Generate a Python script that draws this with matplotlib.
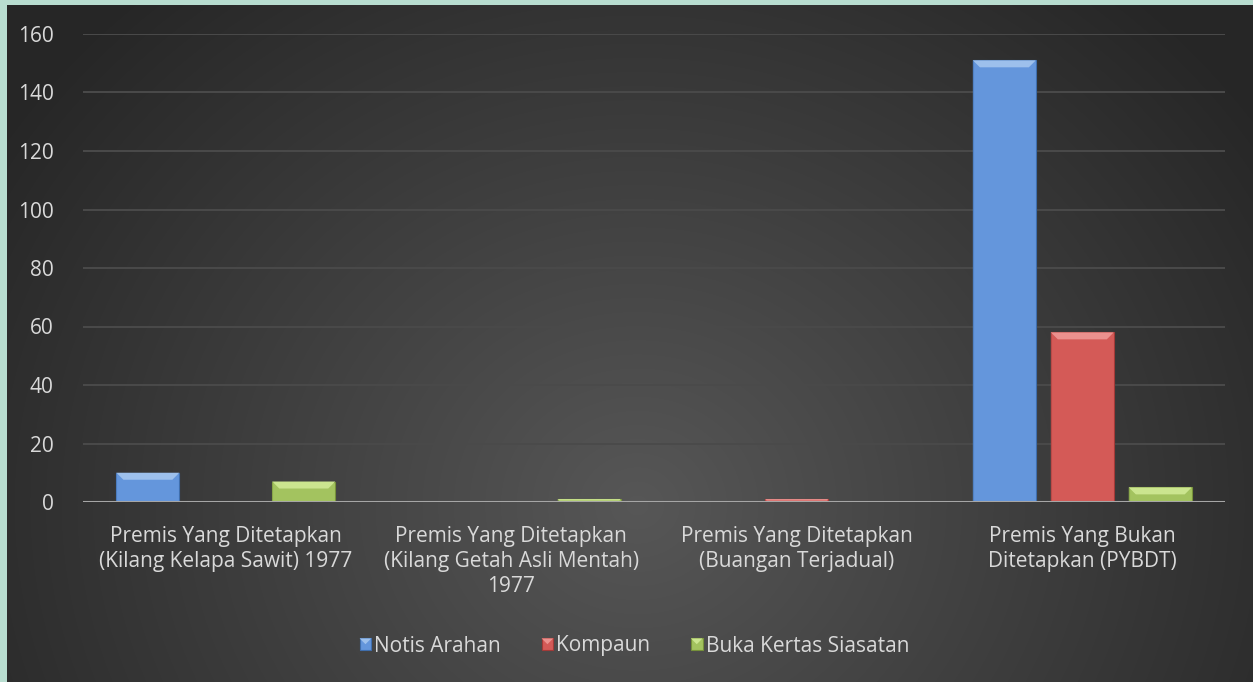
import numpy as np
import matplotlib
matplotlib.use("Agg")
import matplotlib.pyplot as plt
from matplotlib.patches import Polygon, Rectangle
from matplotlib.legend_handler import HandlerBase

categories = [
    "Premis Yang Ditetapkan\n(Kilang Kelapa Sawit) 1977",
    "Premis Yang Ditetapkan\n(Kilang Getah Asli Mentah)\n1977",
    "Premis Yang Ditetapkan\n(Buangan Terjadual)",
    "Premis Yang Bukan\nDitetapkan (PYBDT)",
]
series_names = ["Notis Arahan", "Kompaun", "Buka Kertas Siasatan"]
notis_arahan = [10, 0, 0, 151]
kompaun = [0, 0, 1, 58]
buka_kertas = [7, 1, 0, 5]
yticks = [0, 20, 40, 60, 80, 100, 120, 140, 160]

faces = ["#6496dc", "#d45a57", "#a3c35f"]
tops = ["#9dc0ec", "#eb918e", "#cbe58f"]
edges = ["#3f6ead", "#a33a38", "#76913a"]

W, H = 1253, 682
fig = plt.figure(figsize=(W / 100, H / 100), dpi=100)
fig.patch.set_facecolor("#b8ddd0")
plt.rcParams["font.family"] = ["Open Sans", "DejaVu Sans"]

# radial dark background of the chart area
bg = fig.add_axes([7 / W, 0, 1 - 7 / W, 1 - 5 / H])
yy, xx = np.mgrid[0:677, 0:1246]
r = np.hypot((xx - 630) / 1.0, (yy - 500) / 0.9)
r = np.clip(r / 760, 0, 1)
shade = 0.34 - 0.19 * r
bg.imshow(np.dstack([shade] * 3), aspect="auto", extent=[0, 1, 0, 1], origin="upper")
bg.axis("off")

ax = fig.add_axes([83 / W, 1 - 502 / H, 1142 / W, 468 / H])
ax.set_facecolor("none")

x = np.arange(len(categories))
width = 0.221
offset = 0.273
all_values = [notis_arahan, kompaun, buka_kertas]

bx = 7 / 285.5   # bevel in data units (x)
by = 7 / 2.925   # bevel in data units (y)

for i, vals in enumerate(all_values):
    bars = ax.bar(x + (i - 1) * offset, vals, width, color=faces[i],
                  edgecolor=edges[i], linewidth=0.8, zorder=3, label=series_names[i])
    for b in bars:
        h = b.get_height()
        if h <= 0:
            continue
        x0, x1 = b.get_x(), b.get_x() + b.get_width()
        d = min(by, h * 0.5)
        ddx = bx * d / by
        ax.add_patch(Polygon([(x0, h), (x1, h), (x1 - ddx, h - d), (x0 + ddx, h - d)],
                             closed=True, facecolor=tops[i], edgecolor="none", zorder=4))
        ax.add_patch(Polygon([(x0, 0), (x0 + ddx, d), (x0 + ddx, h - d), (x0, h)],
                             closed=True, facecolor=faces[i], edgecolor="none",
                             alpha=0.5, zorder=4))

ax.set_xlim(-0.5, 3.5)
ax.set_ylim(0, 160)
ax.set_yticks(yticks)
ax.set_xticks(x)
ax.set_xticklabels(categories, linespacing=1.25)
ax.grid(axis="y", color="#4a4a4a", linewidth=1.4, zorder=0)
ax.axhline(0, color="#a6a6a6", linewidth=2.2, zorder=5)
for s in ax.spines.values():
    s.set_visible(False)
ax.tick_params(axis="both", length=0, colors="#d9d9d9", labelsize=15)
ax.tick_params(axis="y", pad=21)
ax.tick_params(axis="x", pad=17)


class BevelHandler(HandlerBase):
    def create_artists(self, legend, orig, xdescent, ydescent, width, height, fontsize, trans):
        i = series_names.index(orig.get_label())
        s = height * 0.8
        x0 = width - s
        y0 = (height - s) / 2
        sq = Rectangle((x0, y0), s, s, facecolor=faces[i], edgecolor=edges[i],
                       linewidth=0.8, transform=trans)
        tri = Polygon([(x0, y0 + s), (x0 + s, y0 + s), (x0 + s / 2, y0 + s / 2)],
                      closed=True, facecolor=tops[i], edgecolor="none", transform=trans)
        return [sq, tri]


handles = [Rectangle((0, 0), 1, 1, label=n) for n in series_names]
leg = fig.legend(handles=handles, labels=series_names, loc="center",
                 bbox_to_anchor=(634 / W, 1 - 646 / H), ncol=3, frameon=False,
                 fontsize=15, handler_map={Rectangle: BevelHandler()},
                 handlelength=0.6, handletextpad=0.15, columnspacing=1.9)
for t in leg.get_texts():
    t.set_color("#d9d9d9")

fig.savefig("out.png", dpi=100, facecolor=fig.get_facecolor())
